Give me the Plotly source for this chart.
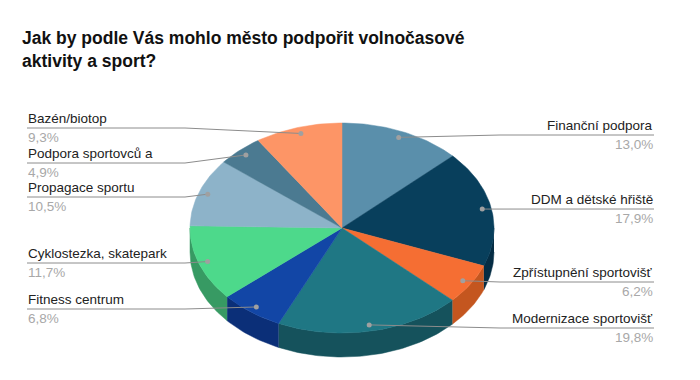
import math
import plotly.graph_objects as go

# ---- data ----
categories = ["Finanční podpora", "DDM a dětské hřiště", "Zpřístupnění sportovišť",
              "Modernizace sportovišť", "Fitness centrum", "Cyklostezka, skatepark",
              "Propagace sportu", "Podpora sportovců a", "Bazén/biotop"]
values = [13.0, 17.9, 6.2, 19.8, 6.8, 11.7, 10.5, 4.9, 9.3]
top_colors = ["#5a8fab", "#083f5c", "#f56e33", "#1f7784", "#1246a6",
              "#4dd98b", "#8db3c9", "#4b7a91", "#fd9566"]
side_colors = ["#44708a", "#052d44", "#c4561f", "#15525c", "#0b2f78",
               "#379a63", "#6a8ea3", "#365c70", "#cc7048"]
title_lines = ["Jak by podle Vás mohlo město podpořit volnočasové", "aktivity a sport?"]

# ---- layout / geometry (page pixel space) ----
W, H = 700, 380
OFF = 8  # page body margin
CX, CY, RX, RY, DEPTH = 342, 228, 152, 105, 24
DOT_R = 0.94
label_side = ["R", "R", "R", "R", "L", "L", "L", "L", "L"]
label_line_y = [135, 209, 282, 328, 309, 263, 197, 163, 128]
LEFT_X, LEFT_ELBOW = 27, 185
RIGHT_X, RIGHT_ELBOW = 654, 500

def pt(theta, r=1.0, dy=0.0):
    return CX + RX * r * math.sin(theta), CY - RY * r * math.cos(theta) + dy

total = sum(values)
angles = []
a = 0.0
for v in values:
    a1 = a + 2 * math.pi * v / total
    angles.append((a, a1))
    a = a1

fig = go.Figure()

# side walls (front half only)
for (a0, a1), col in zip(angles, side_colors):
    s, e = max(a0, math.pi / 2), min(a1, 3 * math.pi / 2)
    if e <= s:
        continue
    n = max(4, int((e - s) / 0.02))
    ts = [s + (e - s) * i / n for i in range(n + 1)]
    xs = [pt(t)[0] for t in ts] + [pt(t, dy=DEPTH)[0] for t in reversed(ts)]
    ys = [pt(t)[1] for t in ts] + [pt(t, dy=DEPTH)[1] for t in reversed(ts)]
    fig.add_trace(go.Scatter(x=xs, y=ys, fill="toself", fillcolor=col, mode="lines",
                             line=dict(color=col, width=0.5), hoverinfo="skip", showlegend=False))

# top faces
for (a0, a1), col, cat in zip(angles, top_colors, categories):
    n = max(4, int((a1 - a0) / 0.02))
    ts = [a0 + (a1 - a0) * i / n for i in range(n + 1)]
    xs = [CX] + [pt(t)[0] for t in ts] + [CX]
    ys = [CY] + [pt(t)[1] for t in ts] + [CY]
    fig.add_trace(go.Scatter(x=xs, y=ys, fill="toself", fillcolor=col, mode="lines",
                             line=dict(color=col, width=0.5), name=cat,
                             hoverinfo="name", showlegend=False))

# leader lines, dots, labels
for (a0, a1), cat, v, side, ly in zip(angles, categories, values, label_side, label_line_y):
    dx, dy = pt((a0 + a1) / 2, DOT_R)
    if side == "L":
        lx = [LEFT_X, LEFT_ELBOW, dx]
        lyy = [ly, ly, dy]
        tx, anchor = LEFT_X, "left"
    else:
        lx = [dx, RIGHT_ELBOW, RIGHT_X]
        lyy = [dy, ly, ly]
        tx, anchor = RIGHT_X, "right"
    fig.add_trace(go.Scatter(x=lx, y=lyy, mode="lines", line=dict(color="#8c8c8c", width=1),
                             hoverinfo="skip", showlegend=False))
    fig.add_trace(go.Scatter(x=[dx], y=[dy], mode="markers",
                             marker=dict(color="#a0a0a0", size=5),
                             hoverinfo="skip", showlegend=False))
    fig.add_annotation(x=tx, y=ly - 1, xref="x", yref="y", text=cat, showarrow=False,
                       xanchor=anchor, yanchor="bottom", borderpad=0,
                       font=dict(family="Liberation Sans, Arial", size=13.5, color="#222222"))
    fig.add_annotation(x=tx, y=ly + 1, xref="x", yref="y",
                       text=f"{v:.1f}".replace(".", ",") + "%", showarrow=False,
                       xanchor=anchor, yanchor="top", borderpad=0,
                       font=dict(family="Liberation Sans, Arial", size=13.5, color="#a8a8a8"))

# title
for i, line in enumerate(title_lines):
    fig.add_annotation(x=20, y=38 + 23 * i, xref="x", yref="y", text=f"<b>{line}</b>",
                       showarrow=False, xanchor="left", yanchor="middle",
                       font=dict(family="Liberation Sans, Arial", size=17.5, color="#111111"))

fig.update_xaxes(range=[OFF, W + OFF], visible=False, fixedrange=True)
fig.update_yaxes(range=[H + OFF, OFF], visible=False, fixedrange=True)
fig.update_layout(width=W, height=H, margin=dict(l=0, r=0, t=0, b=0),
                  plot_bgcolor="white", paper_bgcolor="white")

fig.write_html("out.html")
